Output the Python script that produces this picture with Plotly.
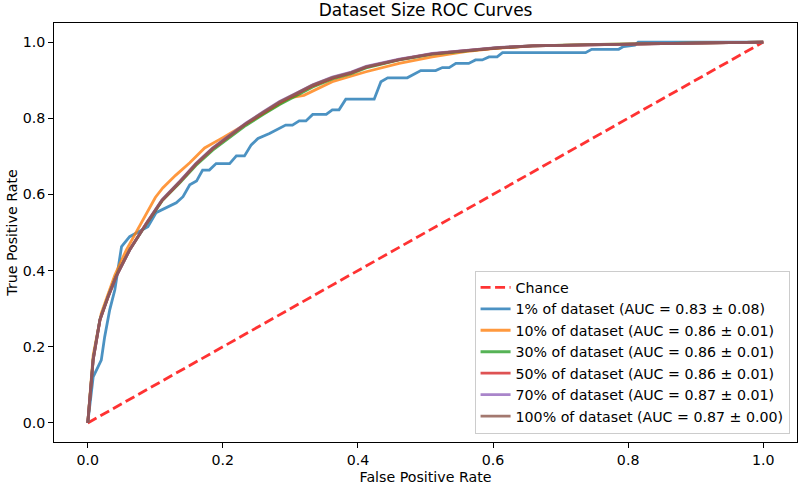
import plotly.graph_objects as go

# ---------------- data ----------------
chance_fpr = [0.0, 1.0]
chance_tpr = [0.0, 1.0]

fpr_1 = [0.0, 0.008, 0.020, 0.025, 0.0325, 0.040, 0.045, 0.050, 0.062, 0.072, 0.089, 0.101, 0.114,
         0.131, 0.141, 0.151, 0.161, 0.170, 0.180, 0.190, 0.210, 0.220, 0.232, 0.242, 0.252,
         0.269, 0.293, 0.303, 0.313, 0.323, 0.333, 0.353, 0.362, 0.372, 0.382, 0.424, 0.434,
         0.444, 0.473, 0.493, 0.515, 0.525, 0.535, 0.545, 0.564, 0.574, 0.584, 0.594, 0.606,
         0.614, 0.737, 0.746, 0.786, 0.793, 0.810, 0.815, 1.0]
tpr_1 = [0.0, 0.121, 0.165, 0.226, 0.297, 0.349, 0.406, 0.463, 0.489, 0.498, 0.515, 0.552, 0.563,
         0.578, 0.594, 0.625, 0.635, 0.664, 0.664, 0.681, 0.681, 0.701, 0.701, 0.730, 0.747,
         0.760, 0.782, 0.782, 0.793, 0.793, 0.810, 0.810, 0.822, 0.822, 0.850, 0.850, 0.896,
         0.906, 0.906, 0.925, 0.925, 0.933, 0.933, 0.944, 0.944, 0.953, 0.953, 0.961, 0.961,
         0.972, 0.972, 0.981, 0.981, 0.988, 0.992, 1.0, 1.0]

fpr_10 = [0.0, 0.008, 0.020, 0.040, 0.057, 0.082, 0.100, 0.111, 0.130, 0.151, 0.173, 0.200,
          0.250, 0.290, 0.300, 0.320, 0.362, 0.412, 0.461, 0.510, 0.559, 0.600, 0.660, 0.760,
          0.850, 1.0]
tpr_10 = [0.0, 0.178, 0.288, 0.388, 0.454, 0.533, 0.592, 0.617, 0.650, 0.683, 0.722, 0.749,
          0.802, 0.845, 0.854, 0.860, 0.896, 0.922, 0.944, 0.961, 0.975, 0.983, 0.990, 0.994,
          0.996, 1.0]

fpr_30 = [0.0, 0.008, 0.018, 0.030, 0.042, 0.062, 0.087, 0.110, 0.136, 0.160, 0.185, 0.210,
          0.234, 0.260, 0.284, 0.310, 0.333, 0.362, 0.390, 0.412, 0.440, 0.461, 0.490, 0.510,
          0.540, 0.559, 0.590, 0.609, 0.658, 0.756, 0.850, 1.0]
tpr_30 = [0.0, 0.169, 0.272, 0.332, 0.386, 0.455, 0.523, 0.583, 0.630, 0.676, 0.716, 0.750,
          0.781, 0.810, 0.836, 0.860, 0.882, 0.903, 0.917, 0.932, 0.944, 0.953, 0.962, 0.968,
          0.973, 0.977, 0.982, 0.985, 0.990, 0.994, 0.996, 1.0]

fpr_50 = list(fpr_30)
tpr_50 = [0.0, 0.166, 0.270, 0.331, 0.385, 0.455, 0.524, 0.584, 0.632, 0.679, 0.720, 0.754,
          0.785, 0.814, 0.841, 0.864, 0.885, 0.905, 0.919, 0.934, 0.945, 0.954, 0.963, 0.969,
          0.974, 0.977, 0.982, 0.985, 0.990, 0.994, 0.996, 1.0]

fpr_70 = list(fpr_30)
tpr_70 = [0.0, 0.167, 0.271, 0.331, 0.384, 0.454, 0.525, 0.586, 0.634, 0.681, 0.722, 0.756,
          0.787, 0.817, 0.844, 0.867, 0.888, 0.908, 0.921, 0.936, 0.947, 0.955, 0.964, 0.970,
          0.975, 0.978, 0.983, 0.986, 0.990, 0.994, 0.996, 1.0]

fpr_100 = list(fpr_30)
tpr_100 = [0.0, 0.165, 0.270, 0.330, 0.384, 0.454, 0.524, 0.585, 0.633, 0.680, 0.721, 0.755,
           0.786, 0.816, 0.843, 0.866, 0.887, 0.907, 0.920, 0.935, 0.946, 0.954, 0.963, 0.969,
           0.974, 0.977, 0.982, 0.985, 0.990, 0.994, 0.996, 1.0]

series_names = ["1% of dataset (AUC = 0.83 ± 0.08)",
                "10% of dataset (AUC = 0.86 ± 0.01)",
                "30% of dataset (AUC = 0.86 ± 0.01)",
                "50% of dataset (AUC = 0.86 ± 0.01)",
                "70% of dataset (AUC = 0.87 ± 0.01)",
                "100% of dataset (AUC = 0.87 ± 0.00)"]
series_colors = ["#1f77b4", "#ff7f0e", "#2ca02c", "#d62728", "#9467bd", "#8c564b"]
x_ticks = [0.0, 0.2, 0.4, 0.6, 0.8, 1.0]
tick_text = ["0.0", "0.2", "0.4", "0.6", "0.8", "1.0"]

# ---------------- figure ----------------
FONT = "DejaVu Sans, Liberation Sans, sans-serif"
FS = 14.2
fig = go.Figure()
fig.add_trace(go.Scatter(x=chance_fpr, y=chance_tpr, mode="lines", name="Chance",
                         line=dict(color="red", width=2.8, dash="10px,4.5px"), opacity=0.8))
xs = [fpr_1, fpr_10, fpr_30, fpr_50, fpr_70, fpr_100]
ys = [tpr_1, tpr_10, tpr_30, tpr_50, tpr_70, tpr_100]
for x, y, n, c in zip(xs, ys, series_names, series_colors):
    fig.add_trace(go.Scatter(x=x, y=y, mode="lines", name=n,
                             line=dict(color=c, width=2.8), opacity=0.8))

axis_common = dict(
    showgrid=False, zeroline=False, showline=True, linecolor="black", linewidth=1.1,
    mirror=True, ticks="outside", ticklen=4.9, tickwidth=1.1, tickcolor="black",
    tickfont=dict(family=FONT, size=FS, color="black"), automargin=False,
    range=[-0.05, 1.05], tickvals=x_ticks, ticktext=tick_text,
)
fig.update_layout(
    width=800, height=485,
    margin=dict(l=54, r=3, t=23, b=43),
    plot_bgcolor="white", paper_bgcolor="white",
    font=dict(family=FONT, size=FS, color="black"),
    title=dict(text="Dataset Size ROC Curves", x=0.532, xanchor="center", xref="container",
               y=1 - 10 / 485, yanchor="middle", yref="container",
               font=dict(family=FONT, size=17, color="black")),
    xaxis=dict(**axis_common, title=dict(text="False Positive Rate", standoff=6,
                                         font=dict(family=FONT, size=FS, color="black"))),
    yaxis=dict(**axis_common, title=dict(text="True Positive Rate", standoff=1,
                                         font=dict(family=FONT, size=FS, color="black"))),
    legend=dict(x=0.99, y=0.02, xanchor="right", yanchor="bottom",
                bgcolor="rgba(255,255,255,0.8)", bordercolor="#cccccc", borderwidth=1,
                font=dict(family=FONT, size=FS, color="black"), tracegroupgap=0),
    showlegend=True,
)
fig.write_html("out.html", config={"displayModeBar": False},
               post_script="document.body.style.margin='0px';document.body.style.overflow='hidden';")
